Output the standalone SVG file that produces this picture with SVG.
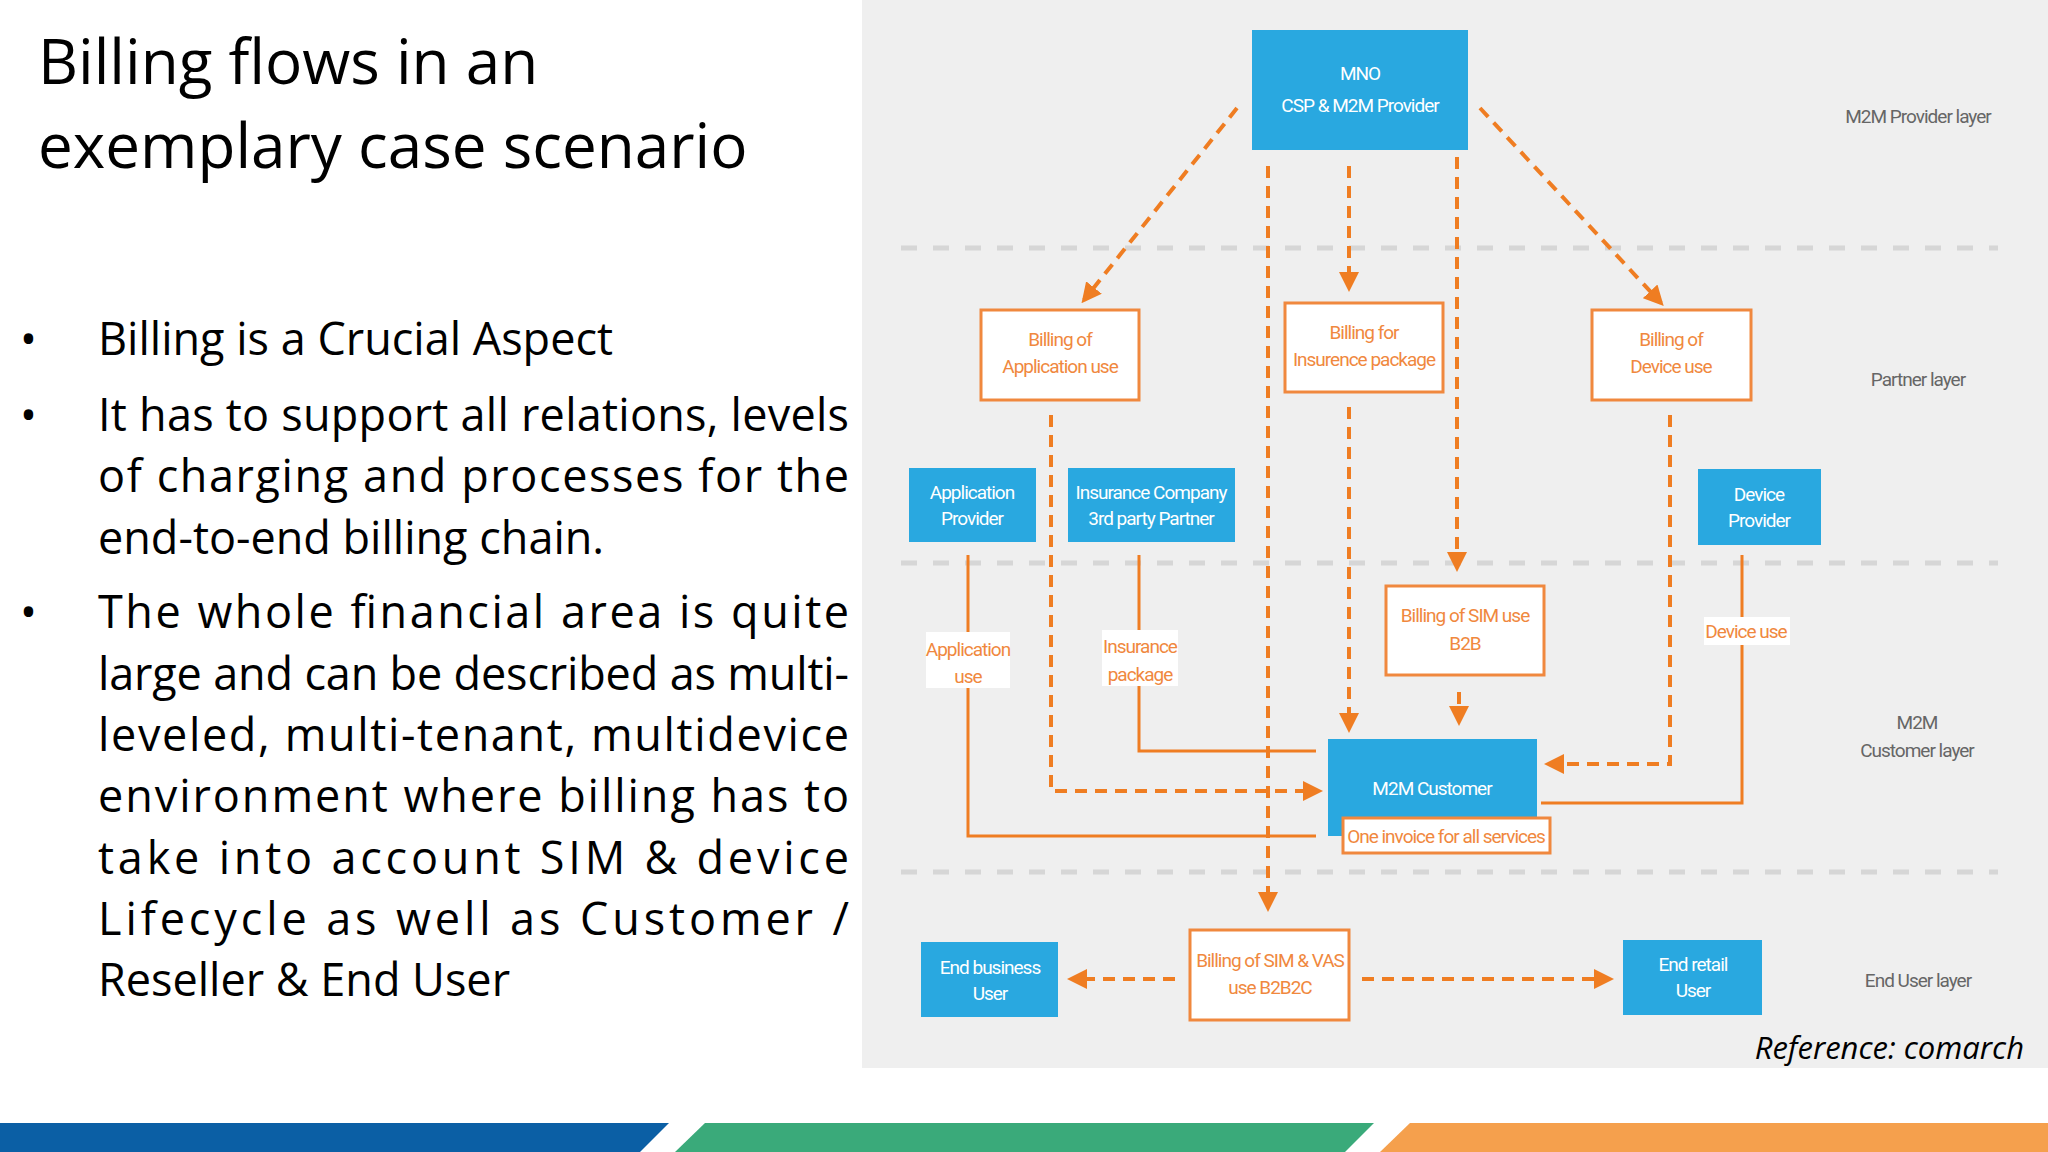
<svg xmlns="http://www.w3.org/2000/svg" width="2048" height="1152" viewBox="0 0 2048 1152">
<style>
.t{font-family:"Open Sans","Liberation Sans",sans-serif;fill:#000}
.b{font-family:"Open Sans","Liberation Sans",sans-serif;font-size:45px;fill:#000}
.nb{fill:#29a8e0}
.nw{fill:#fff;stroke:#f0883e;stroke-width:3}
.tw{font-family:Roboto,"Liberation Sans",sans-serif;font-size:19px;fill:#fff;text-anchor:middle;letter-spacing:-1px}
.to{font-family:Roboto,"Liberation Sans",sans-serif;font-size:19px;fill:#f0883e;text-anchor:middle;letter-spacing:-1px}
.tl{font-family:Roboto,"Liberation Sans",sans-serif;font-size:19px;fill:#666;text-anchor:middle;letter-spacing:-1px}
.d{fill:none;stroke:#ef7d22;stroke-width:4;stroke-dasharray:12 8}
.s{fill:none;stroke:#ef7d22;stroke-width:3}
.g{stroke:#d6d6d6;stroke-width:5;stroke-dasharray:16 16}
</style>
<defs><marker id="a" viewBox="0 0 10 10" refX="8" refY="5" markerWidth="5" markerHeight="5" orient="auto" markerUnits="strokeWidth"><path d="M0,0 L10,5 L0,10 z" fill="#ef7d22"/></marker></defs>
<rect width="2048" height="1152" fill="#fff"/>
<rect x="862" y="0" width="1186" height="1068" fill="#efefef"/>
<text class="t" x="38" y="84" font-size="62">Billing flows in an</text>
<text class="t" x="38" y="168" font-size="62">exemplary case scenario</text>
<g class="b">
<text x="20" y="355">•</text><text x="98" y="355">Billing is a Crucial Aspect</text>
<text x="20" y="431">•</text><text x="98" y="431" textLength="751" lengthAdjust="spacing">It has to support all relations, levels</text>
<text x="98" y="492" textLength="751" lengthAdjust="spacing">of charging and processes for the</text>
<text x="98" y="554">end-to-end billing chain.</text>
<text x="20" y="628">•</text><text x="98" y="628" textLength="751" lengthAdjust="spacing">The whole financial area is quite</text>
<text x="98" y="690" textLength="751" lengthAdjust="spacing">large and can be described as multi-</text>
<text x="98" y="751" textLength="751" lengthAdjust="spacing">leveled, multi-tenant, multidevice</text>
<text x="98" y="812" textLength="751" lengthAdjust="spacing">environment where billing has to</text>
<text x="98" y="874" textLength="751" lengthAdjust="spacing">take into account SIM &amp; device</text>
<text x="98" y="935" textLength="751" lengthAdjust="spacing">Lifecycle as well as Customer /</text>
<text x="98" y="996">Reseller &amp; End User</text>
</g>
<text x="2024" y="1059" text-anchor="end" font-family="Open Sans,Liberation Sans,sans-serif" font-style="italic" font-size="31">Reference: comarch</text>
<polygon points="0,1123 669,1123 640,1152 0,1152" fill="#0b5fa5"/>
<polygon points="705,1123 1374,1123 1345,1152 675,1152" fill="#3aaa7a"/>
<polygon points="1410,1123 2048,1123 2048,1152 1380,1152" fill="#f5a04d"/>
<g id="layers">
<line class="g" x1="901" y1="248" x2="1998" y2="248"/>
<line class="g" x1="901" y1="563" x2="1998" y2="563"/>
<line class="g" x1="901" y1="872" x2="1998" y2="872"/>
<text class="tl" x="1918" y="123">M2M Provider layer</text>
<text class="tl" x="1918" y="386">Partner layer</text>
<text class="tl" x="1917" y="729">M2M</text>
<text class="tl" x="1917" y="757">Customer layer</text>
<text class="tl" x="1918" y="987">End User layer</text>
</g>
<g id="connectors">
<path class="s" d="M968,555 V836 H1316"/>
<path class="s" d="M1139,555 V751 H1316"/>
<path class="s" d="M1742,555 V803 H1541"/>
<path class="d" d="M1237,108 L1084,300" marker-end="url(#a)"/>
<path class="d" d="M1480,108 L1661,303" marker-end="url(#a)"/>
<path class="d" d="M1349,166 V288" marker-end="url(#a)"/>
<path class="d" d="M1268,166 V908" marker-end="url(#a)"/>
<path class="d" d="M1457,157 V568" marker-end="url(#a)"/>
<path class="d" d="M1349,407 V729" marker-end="url(#a)"/>
<path class="d" d="M1459,692 V722" marker-end="url(#a)"/>
<path class="d" d="M1051,415 V791 H1319" marker-end="url(#a)"/>
<path class="d" d="M1670,415 V764 H1548" marker-end="url(#a)"/>
<path class="d" d="M1175,979 H1071" marker-end="url(#a)"/>
<path class="d" d="M1362,979 H1610" marker-end="url(#a)"/>
<rect x="926" y="632" width="84" height="56" fill="#fff"/>
<text class="to" x="968" y="656">Application</text><text class="to" x="968" y="683">use</text>
<rect x="1102" y="630" width="76" height="56" fill="#fff"/>
<text class="to" x="1140" y="653">Insurance</text><text class="to" x="1140" y="681">package</text>
<rect x="1704" y="617" width="86" height="28" fill="#fff"/>
<text class="to" x="1746" y="638">Device use</text>
</g>
<g id="mno"><rect class="nb" x="1252" y="30" width="216" height="120"/><text class="tw" x="1360" y="80">MNO</text><text class="tw" x="1360" y="112">CSP &amp; M2M Provider</text></g>
<g id="billApp"><rect class="nw" x="981" y="310" width="158" height="90"/><text class="to" x="1060" y="346">Billing of</text><text class="to" x="1060" y="373">Application use</text></g>
<g id="billIns"><rect class="nw" x="1285" y="303" width="158" height="89"/><text class="to" x="1364" y="339">Billing for</text><text class="to" x="1364" y="366">Insurence package</text></g>
<g id="billDev"><rect class="nw" x="1592" y="310" width="159" height="90"/><text class="to" x="1671" y="346">Billing of</text><text class="to" x="1671" y="373">Device use</text></g>
<g id="appProv"><rect class="nb" x="909" y="468" width="127" height="74"/><text class="tw" x="972" y="499">Application</text><text class="tw" x="972" y="525">Provider</text></g>
<g id="insComp"><rect class="nb" x="1068" y="468" width="167" height="74"/><text class="tw" x="1151" y="499">Insurance Company</text><text class="tw" x="1151" y="525">3rd party Partner</text></g>
<g id="devProv"><rect class="nb" x="1698" y="469" width="123" height="76"/><text class="tw" x="1759" y="501">Device</text><text class="tw" x="1759" y="527">Provider</text></g>
<g id="simB2B"><rect class="nw" x="1386" y="586" width="158" height="89"/><text class="to" x="1465" y="622">Billing of SIM use</text><text class="to" x="1465" y="650">B2B</text></g>
<g id="m2mCust"><rect class="nb" x="1328" y="739" width="209" height="97"/><text class="tw" x="1432" y="795">M2M Customer</text>
<rect class="nw" x="1343" y="818" width="207" height="35"/><text class="to" x="1446" y="843">One invoice for all services</text></g>
<g id="simB2B2C"><rect class="nw" x="1190" y="930" width="159" height="90"/><text class="to" x="1270" y="967">Billing of SIM &amp; VAS</text><text class="to" x="1270" y="994">use B2B2C</text></g>
<g id="endBus"><rect class="nb" x="921" y="942" width="137" height="75"/><text class="tw" x="990" y="974">End business</text><text class="tw" x="990" y="1000">User</text></g>
<g id="endRet"><rect class="nb" x="1623" y="940" width="139" height="75"/><text class="tw" x="1693" y="971">End retail</text><text class="tw" x="1693" y="997">User</text></g>
</svg>
